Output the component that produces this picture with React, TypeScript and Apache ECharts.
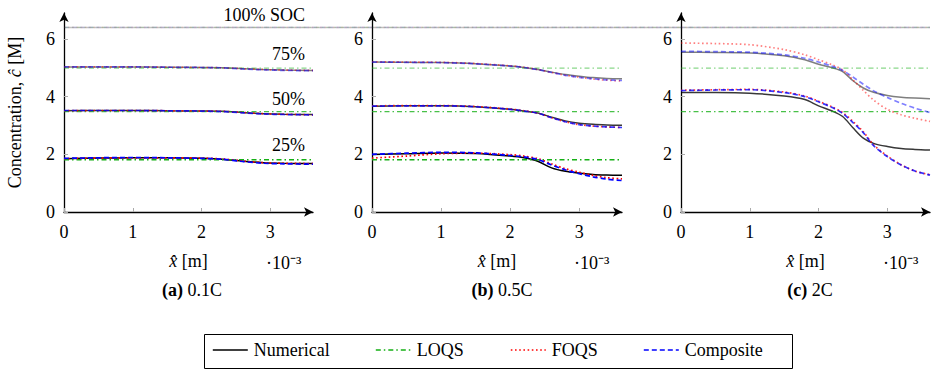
import React, { useEffect, useRef } from "react";
import * as echarts from "echarts";

const FONT = "Liberation Serif";
const FS = 18;

// Axis ranges and tick values
const X_MAX = 3.62;
const Y_MAX = 6.9;
const X_TICKS = [0, 1, 2, 3];
const Y_TICKS = [0, 2, 4, 6];

// Leading-order quasi-static (flat) levels per state of charge
const LOQS_25 = 1.81;
const LOQS_50 = 3.48;
const LOQS_75 = 4.99;
const FULL_SOC = 6.4;

// (a) 0.1C
const XA = [0, 0.5, 1.0, 1.5, 2.0, 2.3, 2.6, 2.9, 3.2, 3.62];
const A75_NUM = [5.03, 5.03, 5.03, 5.02, 5.01, 5.0, 4.97, 4.94, 4.92, 4.91];
const A75_FOQS = [5.03, 5.03, 5.03, 5.02, 5.01, 5.0, 4.97, 4.94, 4.92, 4.91];
const A75_COMP = [5.03, 5.03, 5.03, 5.02, 5.01, 5.0, 4.96, 4.93, 4.91, 4.9];
const A50_NUM = [3.51, 3.52, 3.52, 3.51, 3.5, 3.49, 3.45, 3.41, 3.39, 3.38];
const A50_FOQS = [3.51, 3.52, 3.52, 3.51, 3.5, 3.49, 3.45, 3.41, 3.39, 3.37];
const A50_COMP = [3.52, 3.52, 3.52, 3.51, 3.5, 3.48, 3.44, 3.4, 3.38, 3.37];
const A25_NUM = [1.85, 1.87, 1.88, 1.88, 1.86, 1.83, 1.76, 1.71, 1.69, 1.68];
const A25_FOQS = [1.85, 1.87, 1.88, 1.88, 1.87, 1.84, 1.77, 1.71, 1.69, 1.68];
const A25_COMP = [1.86, 1.88, 1.89, 1.88, 1.86, 1.83, 1.75, 1.69, 1.67, 1.66];

// (b) 0.5C
const XB = [0, 0.5, 1.0, 1.5, 2.0, 2.2, 2.4, 2.6, 2.8, 3.0, 3.2, 3.4, 3.62];
const B75_NUM = [5.2, 5.19, 5.18, 5.14, 5.06, 5.01, 4.94, 4.85, 4.77, 4.71, 4.66, 4.63, 4.62];
const B75_FOQS = [5.21, 5.2, 5.19, 5.15, 5.07, 5.02, 4.94, 4.84, 4.74, 4.67, 4.61, 4.57, 4.54];
const B75_COMP = [5.2, 5.19, 5.18, 5.14, 5.06, 5.01, 4.94, 4.84, 4.74, 4.67, 4.62, 4.58, 4.56];
const B50_NUM = [3.67, 3.68, 3.68, 3.65, 3.56, 3.5, 3.43, 3.29, 3.16, 3.08, 3.04, 3.02, 3.01];
const B50_FOQS = [3.68, 3.69, 3.69, 3.66, 3.57, 3.51, 3.43, 3.27, 3.13, 3.03, 2.98, 2.95, 2.93];
const B50_COMP = [3.67, 3.68, 3.68, 3.65, 3.56, 3.5, 3.43, 3.27, 3.13, 3.03, 2.98, 2.95, 2.93];
const B25_NUM = [1.99, 2.02, 2.05, 2.03, 1.94, 1.88, 1.76, 1.53, 1.41, 1.35, 1.3, 1.28, 1.27];
const B25_FOQS = [1.87, 1.94, 2.02, 2.04, 1.99, 1.94, 1.85, 1.67, 1.5, 1.38, 1.27, 1.19, 1.15];
const B25_COMP = [2.0, 2.04, 2.07, 2.05, 1.96, 1.91, 1.82, 1.63, 1.46, 1.33, 1.22, 1.14, 1.09];

// (c) 2C
const XC = [0, 0.5, 1.0, 1.5, 1.8, 2.0, 2.2, 2.35, 2.5, 2.65, 2.8, 3.0, 3.2, 3.4, 3.62];
const C75_NUM = [5.54, 5.53, 5.51, 5.42, 5.28, 5.12, 5.0, 4.87, 4.55, 4.3, 4.15, 4.04, 3.98, 3.95, 3.93];
const C75_FOQS = [5.86, 5.84, 5.8, 5.63, 5.45, 5.28, 5.1, 4.93, 4.58, 4.22, 3.88, 3.56, 3.37, 3.25, 3.14];
const C75_COMP = [5.57, 5.56, 5.54, 5.45, 5.33, 5.2, 5.05, 4.91, 4.68, 4.43, 4.2, 3.97, 3.77, 3.6, 3.45];
const C50_NUM = [4.14, 4.14, 4.12, 4.02, 3.9, 3.68, 3.5, 3.31, 2.92, 2.56, 2.38, 2.27, 2.2, 2.17, 2.15];
const C50_FOQS = [4.22, 4.24, 4.25, 4.16, 4.02, 3.84, 3.64, 3.45, 3.14, 2.78, 2.33, 1.94, 1.64, 1.42, 1.29];
const C50_COMP = [4.21, 4.23, 4.24, 4.14, 4.0, 3.82, 3.62, 3.42, 3.1, 2.75, 2.3, 1.92, 1.63, 1.42, 1.28];

const LEGEND_NAMES = ["Numerical", "LOQS", "FOQS", "Composite"];
const SOC_LABELS = ["100% SOC", "75%", "50%", "25%"];
const CAPTIONS = [
  ["(a)", " 0.1C"],
  ["(b)", " 0.5C"],
  ["(c)", " 2C"],
];

// Opacity per state-of-charge level
const ALPHA: Record<string, number> = { "100": 0.22, "75": 0.5, "50": 0.78, "25": 1 };

const STYLE: Record<string, any> = {
  num: { color: "#000000", width: 1.5, type: "solid" },
  loqs: { color: "#15b015", width: 1.4, type: [5, 3, 1.5, 3] },
  foqs: { color: "#ff0000", width: 1.7, type: [1.6, 2.6] },
  comp: { color: "#0000ff", width: 1.7, type: [5, 3] },
};

// Panel placement (pixels)
const PANELS = [
  { left: 64, width: 249 },
  { left: 372, width: 250 },
  { left: 681, width: 249 },
];
const GRID_TOP = 13;
const GRID_H = 199;

function zip(xs: number[], ys: number[]) {
  return xs.map((x, i) => [x, ys[i]]);
}

function line(
  name: string,
  idx: number,
  data: number[][],
  kind: string,
  level: string,
  smooth = true,
  alphaScale = 1
) {
  const s = STYLE[kind];
  return {
    type: "line",
    name,
    xAxisIndex: idx,
    yAxisIndex: idx,
    data,
    symbol: "none",
    showSymbol: false,
    smooth: smooth ? 0.3 : false,
    silent: true,
    itemStyle: { color: s.color },
    lineStyle: { color: s.color, width: s.width, type: s.type, opacity: ALPHA[level] * alphaScale },
  };
}

function flat(name: string, idx: number, v: number, level: string, xMax = X_MAX, alphaScale = 1) {
  return line(name, idx, [[0, v], [xMax, v]], "loqs", level, false, alphaScale);
}

function levelSet(
  tag: string,
  idx: number,
  xs: number[],
  num: number[],
  loqs: number,
  foqs: number[],
  comp: number[],
  level: string,
  names?: string[]
) {
  const n = names || LEGEND_NAMES.map((k) => `${k} ${tag}`);
  return [
    line(n[0], idx, zip(xs, num), "num", level),
    flat(n[1], idx, loqs, level),
    line(n[2], idx, zip(xs, foqs), "foqs", level),
    line(n[3], idx, zip(xs, comp), "comp", level),
  ];
}

const text = { fontFamily: FONT, fontSize: FS, color: "#000" };
const italic = { fontFamily: FONT, fontSize: FS, fontStyle: "italic", color: "#000" };

function App() {
  const ref = useRef<HTMLDivElement>(null);

  useEffect(() => {
    if (!ref.current) return;
    const chart = echarts.init(ref.current, null, { renderer: "svg" });

    const grids: any[] = PANELS.map((p) => ({ left: p.left, top: GRID_TOP, width: p.width, height: GRID_H }));
    // overlay grid spanning all panels for the 100% SOC reference line
    grids.push({ left: 64, top: GRID_TOP, width: 866, height: GRID_H });

    const xAxes: any[] = PANELS.map((_, i) => ({
      type: "value",
      gridIndex: i,
      min: 0,
      max: X_MAX,
      interval: 1,
      axisLine: {
        show: true,
        onZero: false,
        symbol: ["none", "arrow"],
        symbolSize: [7, 9],
        lineStyle: { color: "#000", width: 1.3 },
      },
      axisTick: { show: true, inside: true, length: 4, lineStyle: { color: "#aaa" }, customValues: X_TICKS },
      axisLabel: { ...text, margin: 11, customValues: X_TICKS },
      splitLine: { show: false },
      name: "{it|x\u0302} [m]",
      nameLocation: "middle",
      nameGap: 40,
      nameTextStyle: { ...text, rich: { it: italic } },
    }));
    xAxes.push({ type: "value", gridIndex: 3, min: 0, max: 1, show: false });

    const yAxes: any[] = PANELS.map((_, i) => ({
      type: "value",
      gridIndex: i,
      min: 0,
      max: Y_MAX,
      interval: 2,
      axisLine: {
        show: true,
        onZero: false,
        symbol: ["none", "arrow"],
        symbolSize: [7, 9],
        lineStyle: { color: "#000", width: 1.3 },
      },
      axisTick: { show: true, inside: true, length: 4, lineStyle: { color: "#aaa" }, customValues: Y_TICKS },
      axisLabel: { ...text, margin: 9, customValues: Y_TICKS },
      splitLine: { show: false },
      ...(i === 0
        ? {
            name: "Concentration, {it|ĉ} [M]",
            nameLocation: "middle",
            nameRotate: 90,
            nameGap: 40,
            nameTextStyle: { ...text, rich: { it: italic } },
          }
        : {}),
    }));
    yAxes.push({ type: "value", gridIndex: 3, min: 0, max: Y_MAX, show: false });

    const fullLine = [[0, FULL_SOC], [1, FULL_SOC]];
    const series: any[] = [
      ...levelSet("a25", 0, XA, A25_NUM, LOQS_25, A25_FOQS, A25_COMP, "25", LEGEND_NAMES),
      ...levelSet("a50", 0, XA, A50_NUM, LOQS_50, A50_FOQS, A50_COMP, "50"),
      ...levelSet("a75", 0, XA, A75_NUM, LOQS_75, A75_FOQS, A75_COMP, "75"),
      ...levelSet("b25", 1, XB, B25_NUM, LOQS_25, B25_FOQS, B25_COMP, "25"),
      ...levelSet("b50", 1, XB, B50_NUM, LOQS_50, B50_FOQS, B50_COMP, "50"),
      ...levelSet("b75", 1, XB, B75_NUM, LOQS_75, B75_FOQS, B75_COMP, "75"),
      ...levelSet("c50", 2, XC, C50_NUM, LOQS_50, C50_FOQS, C50_COMP, "50"),
      ...levelSet("c75", 2, XC, C75_NUM, LOQS_75, C75_FOQS, C75_COMP, "75"),
      line("Numerical 100", 3, fullLine, "num", "100", false, 1.1),
      flat("LOQS 100", 3, FULL_SOC, "100", 1, 0.6),
      line("FOQS 100", 3, fullLine, "foqs", "100", false, 0.35),
      line("Composite 100", 3, fullLine, "comp", "100", false, 0.35),
    ];

    const legendLeft = [212, 375, 510, 643];
    const legends = LEGEND_NAMES.map((name, i) => ({
      data: [name],
      left: legendLeft[i],
      top: 341,
      padding: 0,
      itemWidth: 35,
      itemHeight: 14,
      itemGap: 0,
      selectedMode: false,
      itemStyle: { color: "rgba(0,0,0,0)", borderColor: "rgba(0,0,0,0)", borderWidth: 0, opacity: 0 },
      lineStyle: { width: 1.6 },
      textStyle: { ...text, padding: [0, 0, 0, 1] },
    }));

    const socY = [15, 54, 99, 145];
    const graphic: any[] = [
      {
        type: "rect",
        shape: { x: 204.5, y: 334.5, width: 588, height: 34 },
        style: { fill: "none", stroke: "#000", lineWidth: 1 },
        silent: true,
      },
      ...SOC_LABELS.map((t, i) => ({
        type: "text",
        x: 305,
        y: socY[i],
        silent: true,
        style: {
          text: t,
          align: "right",
          textAlign: "right",
          verticalAlign: "middle",
          textVerticalAlign: "middle",
          fontFamily: FONT,
          fontSize: FS,
          fill: "#000",
        },
      })),
      ...PANELS.map((p) => ({
        type: "text",
        x: p.left + 202,
        y: 263,
        silent: true,
        style: {
          text: "·10⁻³",
          align: "left",
          textAlign: "left",
          verticalAlign: "middle",
          textVerticalAlign: "middle",
          fontFamily: FONT,
          fontSize: FS,
          fill: "#000",
        },
      })),
      ...CAPTIONS.map((c, i) => ({
        type: "text",
        x: [192, 502, 810][i],
        y: 290,
        silent: true,
        style: {
          text: `{b|${c[0]}}{n|${c[1]}}`,
          align: "center",
          textAlign: "center",
          verticalAlign: "middle",
          textVerticalAlign: "middle",
          fontFamily: FONT,
          fontSize: FS,
          fill: "#000",
          rich: {
            b: { fontFamily: FONT, fontSize: FS, fontWeight: "bold", fill: "#000", color: "#000" },
            n: { fontFamily: FONT, fontSize: FS, fill: "#000", color: "#000" },
          },
        },
      })),
    ];

    chart.setOption({
      animation: false,
      backgroundColor: "#ffffff",
      textStyle: { fontFamily: FONT },
      grid: grids,
      xAxis: xAxes,
      yAxis: yAxes,
      legend: legends,
      series,
      graphic,
    });

    return () => chart.dispose();
  }, []);

  return (
    <div
      ref={ref}
      style={{ position: "fixed", left: 0, top: 0, width: 932, height: 370, background: "#fff" }}
    />
  );
}

export default App;
